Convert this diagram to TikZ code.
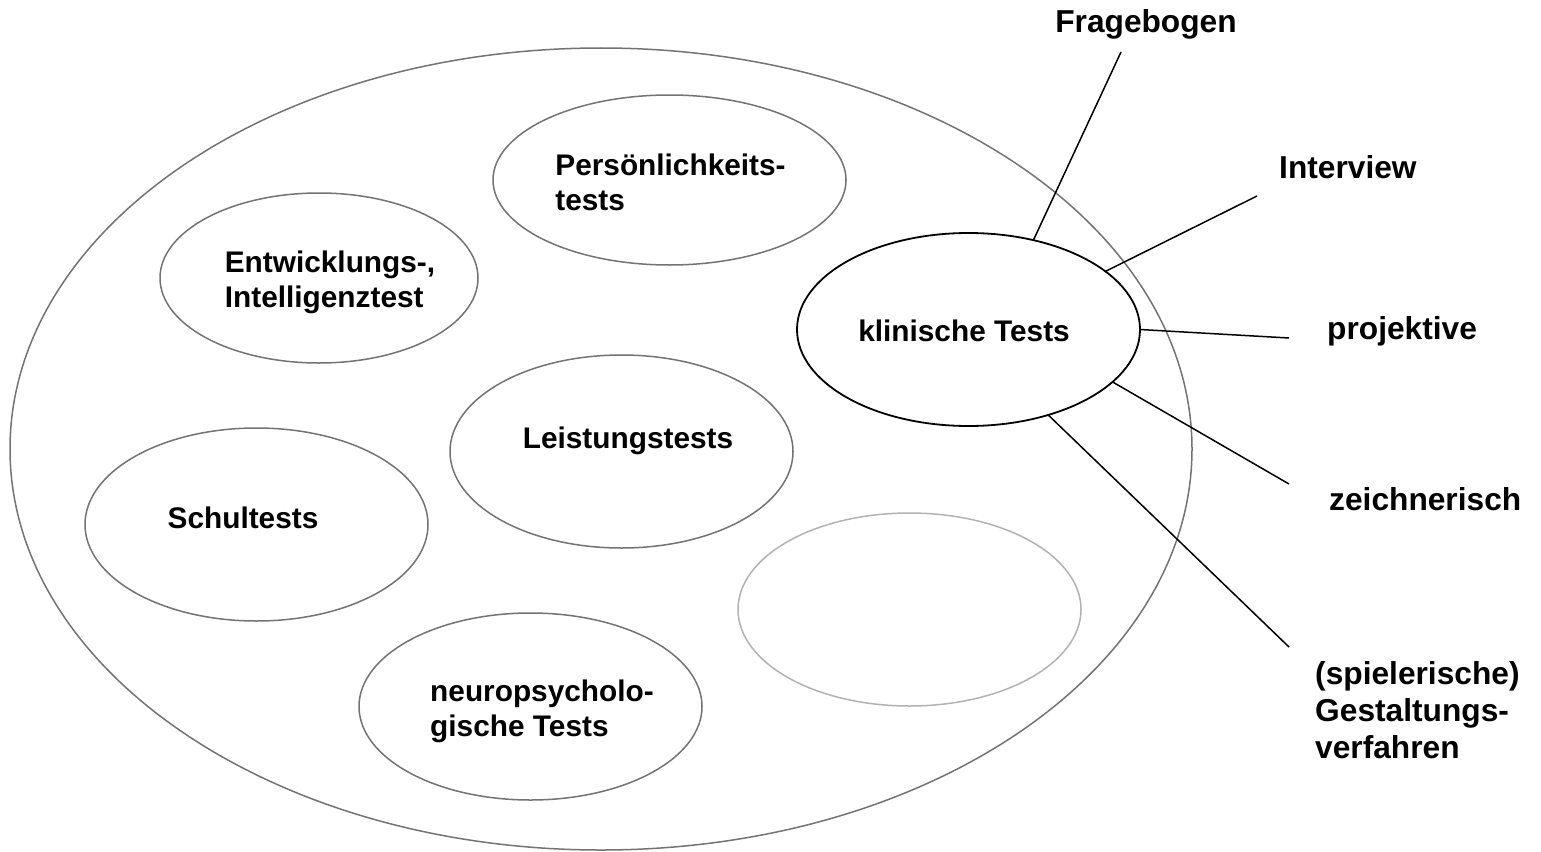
\documentclass[tikz,border=0pt]{standalone}
\usepackage{fontspec}
\setmainfont{Liberation Sans}
\usetikzlibrary{shapes.geometric}
\begin{document}
\begin{tikzpicture}[x=1pt,y=-1pt,
  ell/.style={ellipse, draw=gray!90!black, line width=1.5pt, inner sep=0pt, outer sep=0pt},
  txt/.style={font=\fontsize{29.8}{35}\selectfont\bfseries, inner sep=0pt, align=left},
  otxt/.style={font=\fontsize{31.7}{37}\selectfont\bfseries, inner sep=0pt, align=left},
  conn/.style={line width=1.5pt, black}]
\useasboundingbox (0,0) rectangle (1541,851);
% big ellipse
\node[ell, minimum width=1182pt, minimum height=802pt] (big) at (601,449) {};
% inner ellipses
\node[ell, minimum width=353pt, minimum height=170pt] (pers) at (669.5,180) {};
\node[ell, minimum width=318pt, minimum height=170pt] (entw) at (319,278) {};
\node[ell, minimum width=343pt, minimum height=193pt] (leis) at (621.5,451.5) {};
\node[ell, minimum width=343pt, minimum height=193pt] (schu) at (256.5,524.5) {};
\node[ell, minimum width=343pt, minimum height=187pt] (neur) at (530.5,706.5) {};
\node[ell, draw=gray!60, minimum width=343pt, minimum height=193pt] (empty) at (909.5,609.5) {};
\node[ell, draw=black, line width=1.8pt, minimum width=343pt, minimum height=193pt] (kt) at (968.5,329.5) {};
% texts inside
\node[txt] (tpers) at (670.5,182) {Persönlichkeits-\\tests};
\node[txt] (tentw) at (330,282) {Entwicklungs-,\\Intelligenztest};
\node[txt] (tleis) at (628,441) {Leistungstests};
\node[txt] (tschu) at (243,518) {Schultests};
\node[txt] (tneur) at (542,711) {neuropsycholo-\\gische Tests};
\node[txt] (tkt) at (964,331) {klinische Tests};
% outer labels
\node[otxt] (frag) at (1146,24) {Fragebogen};
\node[otxt, anchor=west] (intv) at (1279,167) {Interview};
\node[otxt, anchor=west] (proj) at (1327,331) {projektive};
\node[otxt, anchor=west] (zeic) at (1329,499) {zeichnerisch};
\node[otxt, anchor=west] (gest) at (1315,710) {(spielerische)\\Gestaltungs-\\verfahren};
% connector ends
\coordinate (efrag) at (1121,52);
\coordinate (eintv) at (1257,196);
\coordinate (eproj) at (1289,338);
\coordinate (ezeic) at (1289,484);
\coordinate (egest) at (1289,647);
\draw[conn] (kt.54.2) -- (efrag);
\draw[conn] (kt.23.8) -- (eintv);
\draw[conn] (kt.0) -- (eproj);
\draw[conn] (kt.-20) -- (ezeic);
\draw[conn] (kt.-47.7) -- (egest);
\end{tikzpicture}
\end{document}
